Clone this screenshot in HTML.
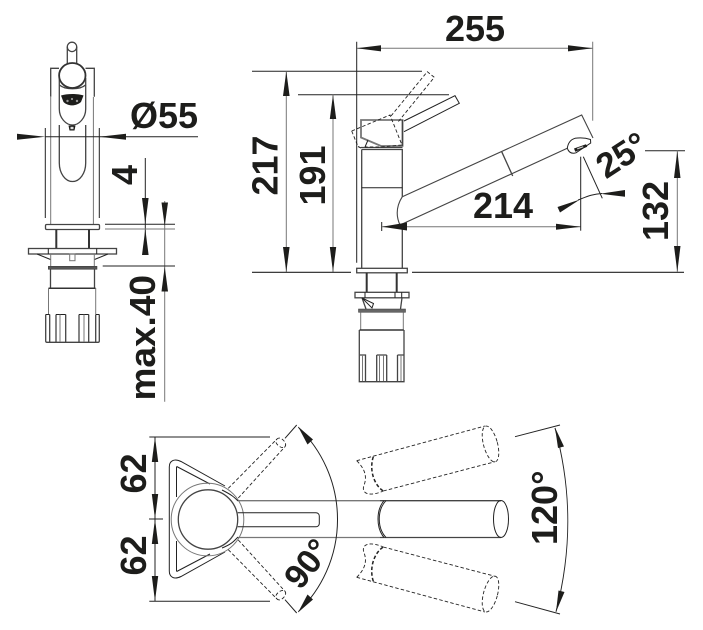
<!DOCTYPE html>
<html>
<head>
<meta charset="utf-8">
<style>
html,body{margin:0;padding:0;background:#fff;}
svg{display:block;}
text{font-family:"Liberation Sans",Arial,sans-serif;font-weight:bold;font-size:36px;fill:#1d1d1b;}
.l{stroke:#222;stroke-width:1;fill:none;}
.g{stroke:#777;stroke-width:1;fill:none;}
.m{stroke:#444;stroke-width:1.3;fill:none;}
.t{stroke:#333;stroke-width:2;fill:none;}
.d{stroke:#222;stroke-width:.9;fill:none;stroke-dasharray:3.5 2.2;}
.a{fill:#1d1d1b;stroke:none;}
</style>
</head>
<body>
<svg width="703" height="630" viewBox="0 0 703 630" xmlns="http://www.w3.org/2000/svg">
<rect width="703" height="630" fill="#fff"/>

<!-- FRONT VIEW -->
<g>
<path class="m" d="M67.300 46.700V66M76.700 46.700V66"/>
<circle cx="72" cy="46.900" r="4.700" class="m" fill="#fff"/>
<path class="m" d="M59 68.300H50.700V96.700M85.500 68.300H94.300V96.700"/>
<path class="m" d="M59.300 78V109C59.300 118 66 125 72.500 125C79 125 85.700 118 85.700 109V78"/>
<path class="m" d="M59.500 85C65 90 80 90 85.500 85"/>
<ellipse cx="72.300" cy="75.500" rx="13.200" ry="12.500" fill="#fff" stroke="#333" stroke-width="1.800"/>
<path class="a" d="M61 95.500C67 93.500 78 93.500 83.500 95.500L81 102C76 106.500 68 106.500 63.500 102z"/>
<circle cx="67.500" cy="101" r="1.200" fill="#999"/><circle cx="77" cy="101" r="1.200" fill="#999"/><circle cx="72" cy="99" r="1.100" fill="#999"/>
<path class="a" d="M68.500 125.500H75.500L74.500 130.500H69.500Z"/>
<rect x="70.500" y="126.800" width="3" height="2.400" fill="#ddd"/>
<path class="g" d="M50.700 97V224M93.400 97V224"/>
<path class="m" d="M59.300 125V163a13.200 18.500 0 0 0 26.400 0V125"/>
<path class="l" d="M45.300 128V218M99.300 128V218"/>
<path class="l" d="M45 136.700H198"/>
<polygon class="a" points="17,133.700 45.300,136.700 17,139.700"/>
<polygon class="a" points="126,133.700 99.300,136.700 126,139.700"/>
<rect x="45.500" y="224.500" width="54" height="5" rx="1.200" class="m" fill="#fff"/>
<path class="t" d="M56.300 229.500V248.300M89 229.500V248.300"/>
<rect x="28.500" y="248.500" width="88" height="5.500" class="m"/>
<path class="l" d="M48.300 248.500V254M96.700 248.500V254"/>
<path class="l" d="M37 254L50.500 259.500M108 254L94.500 259.500"/>
<path class="g" d="M50.700 254V266M94.300 254V266"/>
<rect x="69.700" y="254" width="5.300" height="6.700" class="g"/>
<rect x="48.300" y="266.300" width="48.700" height="3" fill="#555" stroke="#333" stroke-width=".5"/>
<path class="m" d="M50.500 269.300V288M94.500 269.300V288"/>
<path class="t" d="M48.500 288.300H95.600" style="stroke-width:1.500"/>
<path class="g" d="M48.500 288V314M95.700 288V314"/>
<path class="m" d="M45.700 314.500V341a1.300 1.300 0 0 0 1.300 1.300H98a1.300 1.300 0 0 0 1.300-1.300V314.500"/>
<path class="m" d="M49.700 314.500V342M56 314.500V342M65.700 314.500V342M79 314.500V342M88.700 314.500V342M95.700 314.500V342"/>
<path class="l" d="M45.700 314.500H49.700M56 314.500H65.700M79 314.500H88.700M95.700 314.500H99.300"/>
<path class="g" d="M60 314.500V342M84 314.500V342"/>
</g>

<!-- front dims -->
<path class="l" d="M145.300 158V255"/>
<polygon class="a" points="142,198 148.600,198 145.300,224"/>
<polygon class="a" points="142,255 148.600,255 145.300,229"/>
<path class="g" d="M164.700 201V401.700"/>
<polygon class="a" points="161.500,202.500 168,202.500 164.700,226"/>
<polygon class="a" points="161.500,291.500 168,291.500 164.700,266.500"/>
<path class="l" d="M105 224.300H175"/>
<path class="g" d="M105 229H175"/>
<path class="l" d="M102.700 266H175"/>
<text x="198" y="128" text-anchor="end">Ø55</text>
<text transform="translate(137,185) rotate(-90)">4</text>
<text transform="translate(155,400.500) rotate(-90)" textLength="125.500" lengthAdjust="spacingAndGlyphs">max.40</text>

<!-- SIDE VIEW dims -->
<path class="l" d="M356.700 41.700V262.700"/>
<path class="g" d="M592.700 41.700V120.700"/>
<path class="g" d="M357 48.300H592.700"/>
<polygon class="a" points="381,45.200 356.700,48.300 381,51.400"/>
<polygon class="a" points="568,45.200 592.700,48.300 568,51.400"/>
<text x="475" y="41" text-anchor="middle">255</text>
<path class="l" d="M252 71.300H422M298 94.700H449"/>
<path class="g" d="M286.300 71.300V272M333 94.700V272"/>
<polygon class="a" points="283,96 289.600,96 286.300,71.300"/>
<polygon class="a" points="283,247 289.600,247 286.300,272"/>
<polygon class="a" points="329.800,119 336.200,119 333,94.700"/>
<polygon class="a" points="329.800,247 336.200,247 333,272"/>
<path class="l" d="M252 272.300H351M412 272.300H684" style="stroke-width:1.200"/>
<text transform="translate(277.700,195.500) rotate(-90)">217</text>
<text transform="translate(325,205.500) rotate(-90)">191</text>

<!-- SIDE VIEW tap -->
<path d="M361 120H402.500V146L381 146L361 137.500Z" class="g" style="stroke-width:1.800"/>
<path class="m" d="M402.500 120V146M361 147.500H402.500"/>
<path class="l" d="M404 121L455 95.700L459.300 103.300L404 131.700"/>
<path class="d" d="M391 116L427.300 71.700L434.300 77.300L398 122"/>
<path class="d" d="M351.700 131L390 115L402 145L381 147L365 147"/>
<path class="d" d="M351.700 131L358 146.500"/>
<path class="l" d="M358 146.500L361 148M365 147L368 140"/>
<path class="m" d="M361.700 149.500H402.300V196.700M361.700 149.500V268M402.300 225V268"/>
<path class="l" d="M361.700 187.700H402.300"/>
<rect x="356.700" y="268.300" width="50.600" height="4.500" class="m"/>
<path class="t" d="M366.700 272.800V292M396.700 272.800V292"/>
<rect x="355" y="292.300" width="54" height="5.500" class="m"/>
<path class="l" d="M365 292.300V297.800M395 292.300V297.800M401.700 292.300V297.800"/>
<path class="m" d="M362 297.800L366 309M402 297.800L400.500 309"/>
<path class="l" d="M362 298L373.500 303.500L372 308L362 298"/>
<rect x="358.500" y="309" width="47" height="3.300" fill="#666" stroke="#333" stroke-width=".5"/>
<path class="g" d="M360.700 312.300V330M403.300 312.300V330"/>
<path class="t" d="M359.500 330H403.700" style="stroke-width:1.400"/>
<path class="m" d="M359.300 330V381.700H404V330"/>
<path class="m" d="M360 355H365.500V381M376.700 355V381M386.700 355V381M397.500 355V381M376.700 355H386.700M397.500 355H404"/>
<path class="g" d="M362.500 355V381M379.500 355V381M383.500 355V381M401 355V381"/>

<!-- spout -->
<path class="m" d="M402.300 196.700L581.700 115L593 138" style="stroke-width:1.100"/>
<path class="m" d="M567.300 148.300L400 225C395 214 397 205 402.300 196.700" style="stroke-width:1.100"/>
<path class="m" d="M501.700 151.700L512.700 176"/>
<path class="l" d="M567.300 148.300C568 143 571 139.500 575 138.300C580 137.500 586 138 590.500 139.500L590.700 143L576 152.800C572 154 569 153 567.300 148.300Z" fill="#fff"/>
<polygon class="a" points="574,148.500 586,144.300 587.300,146.800 575.300,151.800"/>
<polygon points="577,148.300 583,146.300 583.500,147.300 577.500,149.500" fill="#ccc"/>

<!-- 214 -->
<path class="l" d="M381.700 222V231"/>
<path class="g" d="M382 226.700H580.700"/>
<polygon class="a" points="407,222.500 382,226.700 407,230.500"/>
<polygon class="a" points="556,223.700 580.700,226.700 556,229.700"/>
<path class="l" d="M580.700 156.700V230.700"/>
<text x="503" y="218" text-anchor="middle">214</text>

<!-- 25deg -->
<path class="l" d="M583.300 156.700L602.300 198.300"/>
<path class="l" d="M578 200C586 197 592 194 602 193.500"/>
<polygon class="a" points="557.500,207 560,212.500 580,199.500"/>
<polygon class="a" points="625,190 625,196.700 600,193.800"/>
<text transform="translate(606,179.500) rotate(-33)" style="font-size:35px">25°</text>

<!-- 132 -->
<path class="l" d="M645 150.700H685"/>
<path class="g" d="M677.300 150.700V272"/>
<polygon class="a" points="674,178 680.500,178 677.300,150.700"/>
<polygon class="a" points="674,246 680.500,246 677.300,272"/>
<text transform="translate(668,241) rotate(-90)">132</text>

<!-- PLAN VIEW -->
<path class="l" d="M149.300 437H270M149.300 601.300H270M149 519H163"/>
<path class="l" d="M155 437V601.300"/>
<polygon class="a" points="151.800,462 158.200,462 155,437"/>
<polygon class="a" points="151.800,494 158.200,494 155,519"/>
<polygon class="a" points="151.800,544 158.200,544 155,519"/>
<polygon class="a" points="151.800,576 158.200,576 155,601.300"/>
<text transform="translate(146,493.500) rotate(-90)">62</text>
<text transform="translate(146,575.500) rotate(-90)">62</text>

<path class="l" d="M225 486L181 461.500C174 458 169.300 461 169.300 467V571C169.300 577 174 580 181 576.500L225 552"/>
<path class="l" d="M176.700 466.500L210 484M176.500 466.500V497M176.500 541V571.500M176.700 571.500L210 554"/>
<circle cx="207.500" cy="519.500" r="36.300" class="g" fill="#fff"/>
<circle cx="208" cy="519.500" r="29.700" class="m" fill="#fff"/>
<path class="l" d="M237.700 512.700H316a3.300 3.300 0 0 1 3.300 3.300v7.500a3.300 3.300 0 0 1-3.300 3.300H237.700"/>
<path class="g" d="M238 500.700H380" style="stroke-width:1.300"/>
<path class="g" d="M238 537.500H380" style="stroke-width:1.300"/>
<path class="m" d="M380 500.700H501M380 537.500H501"/>
<ellipse cx="501" cy="519" rx="7.500" ry="18.500" class="l"/>
<path class="l" d="M386 500.700C377 510 377 528 386 537.500"/>
<path class="l" d="M384 500.700C376 510 376 528 384 537.500"/>
<path class="l" d="M222 490C232 495 234 497 238 501M222 548C232 544 234 541 238 537"/>

<path class="d" d="M228.300 488.300L276.700 439.300M238.300 498L285 446.700"/>
<path class="d" d="M276.700 439.300C280 435 288 443 285 446.700C282 450 273 443 276.700 439.300Z"/>
<path class="d" d="M228.300 549.700L276.700 598.700M238.300 540L285 591.300"/>
<path class="d" d="M276.700 598.700C280 603 288 595 285 591.300C282 588 273 595 276.700 598.700Z"/>

<!-- 90 arc -->
<path class="l" d="M285 438.300L296.700 425M285 599.700L296.700 613"/>
<path class="l" d="M298.300 427.300A128 128 0 0 1 298.300 611.700"/>
<polygon class="a" points="298,426.500 307.500,444.500 313,439.500"/>
<polygon class="a" points="298,612.500 307.500,594.500 313,599.500"/>
<text transform="translate(300.500,591) rotate(-52)" style="font-size:34px">90°</text>

<!-- dashed spouts -->
<path class="d" d="M356.700 460.700L485 426M383.300 491L495 461.700"/>
<ellipse cx="490.500" cy="444" rx="7" ry="18.500" transform="rotate(-15 490.500 444)" class="d"/>
<path class="d" d="M373.300 456.700C369 470 374 485 383.300 491" style="stroke-width:1.500"/>
<path class="d" d="M356.700 460.700C368 472 366 480 363.500 487C362 495 372 496 383.300 491"/>
<path class="d" d="M356.700 577.300L485 612M383.300 547L495 576.300"/>
<ellipse cx="490.500" cy="594" rx="7" ry="18.500" transform="rotate(15 490.500 594)" class="d"/>
<path class="d" d="M373.300 581.300C369 568 374 553 383.300 547" style="stroke-width:1.500"/>
<path class="d" d="M356.700 577.300C368 566 366 558 363.500 551C362 543 372 542 383.300 547"/>

<!-- 120 arc -->
<path class="l" d="M515 436.700L560 425M515 601.700L560 614"/>
<path class="l" d="M555 428C572 490 572 550 556 611.700"/>
<polygon class="a" points="555,427.500 558,448 564,446.500"/>
<polygon class="a" points="556,612 558.500,590.500 564.500,592"/>
<text transform="translate(557,545) rotate(-90)">120°</text>
</svg>
</body>
</html>
